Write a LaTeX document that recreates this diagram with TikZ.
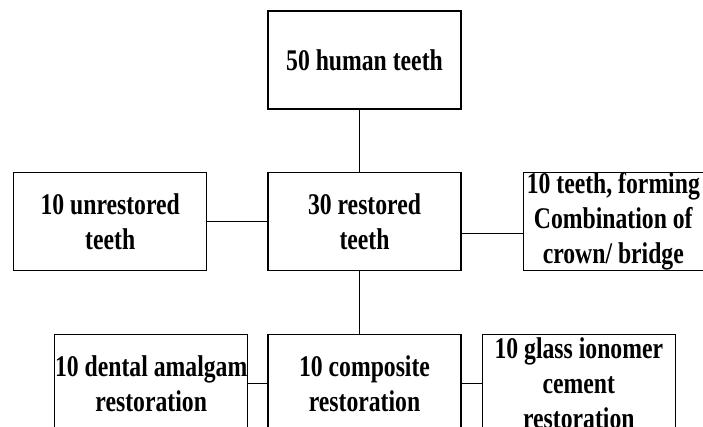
\documentclass[tikz,border=0pt]{standalone}
\usepackage{fontspec}
\newfontfamily\boxfont[FakeStretch=0.79]{Liberation Serif}
\usepackage{tikz}
\usetikzlibrary{positioning}
\tikzset{
  teethbox/.style={
    rectangle, draw=black, fill=white, line width=1.3pt,
    minimum width=193pt, minimum height=98pt,
    font=\boxfont\bfseries\fontsize{30}{35}\selectfont, align=center,
    inner sep=0pt
  },
  link/.style={line width=1.2pt, draw=black},
}

\begin{document}
\begin{tikzpicture}[x=1pt, y=-1pt]
\clip (0,0) rectangle (703,427);
% Top
\node[teethbox] (human) at (364.5,60) {50 human teeth};

% Middle row
\node[teethbox, below=62pt of human] (restored) {30 restored\\teeth};
\node[teethbox, left=60pt of restored] (unrestored) {10 unrestored\\teeth};
\node[teethbox, right=61pt of restored, minimum width=180pt] (crown) {10 teeth, forming\\Combination of\\crown/ bridge};

% Bottom row
\node[teethbox, below=63pt of restored] (composite) {10 composite\\restoration};
\node[teethbox, left=19pt of composite] (amalgam) {10 dental amalgam\\restoration};
\node[teethbox, right=20pt of composite] (glass) {10 glass ionomer\\cement\\restoration};

% Links
\draw[link] ([xshift=-5pt]human.south) -- ([xshift=-5pt]restored.north);
\draw[link] (unrestored) -- (restored);
\draw[link] ([yshift=-12pt]restored.east) -- ([yshift=-12pt]crown.west);
\draw[link] ([xshift=-5pt]restored.south) -- ([xshift=-5pt]composite.north);
\draw[link] (amalgam) -- (composite);
\draw[link] (composite) -- (glass);
\end{tikzpicture}
\end{document}
